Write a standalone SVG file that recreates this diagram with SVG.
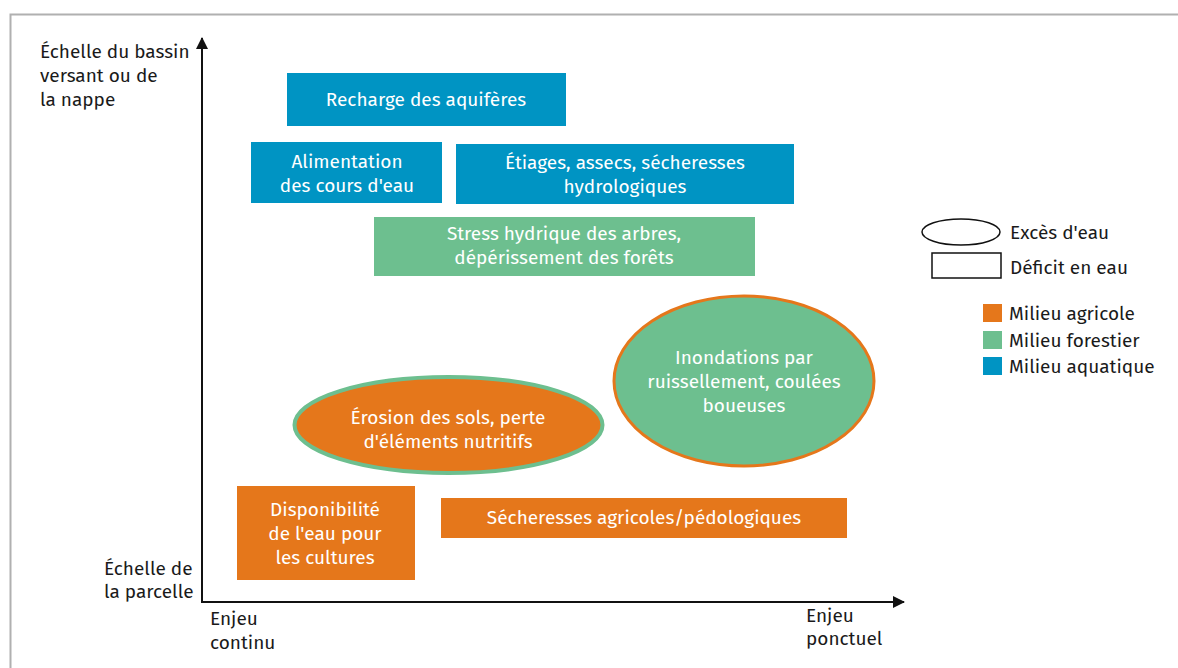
<svg xmlns="http://www.w3.org/2000/svg" width="1178" height="668" viewBox="0 0 1178 668">
  <defs>
    <marker id="arrow" viewBox="0 0 12 12" refX="11" refY="6" markerWidth="12" markerHeight="12" markerUnits="userSpaceOnUse" orient="auto">
      <path d="M0,0 L12,6 L0,12 Z" fill="#111"/>
    </marker>
    <style>
      text { font-family: "Fira Sans", "Open Sans", "Noto Sans", "Liberation Sans", sans-serif; font-size: 19px; }
      .lbl { fill: #1a1a1a; }
      .in { fill: #ffffff; text-anchor: middle; }
      .blue { fill: #0094c3; }
      .green { fill: #6dbf8f; }
      .orange { fill: #e5771b; }
    </style>
  </defs>

  <rect width="1178" height="668" fill="#ffffff"/>
  <!-- outer frame -->
  <path d="M10.5,668 V14.5 H1178" fill="none" stroke="#b0b0b0" stroke-width="2"/>

  <!-- axes -->
  <g id="connectors" stroke="#111" stroke-width="2" fill="none">
    <line x1="202" y1="602" x2="202" y2="38" marker-end="url(#arrow)"/>
    <line x1="201" y1="602" x2="904" y2="602" marker-end="url(#arrow)"/>
  </g>

  <!-- axis labels -->
  <g id="axis-y-top" class="lbl">
    <text x="40" y="58">Échelle du bassin</text>
    <text x="40" y="82">versant ou de</text>
    <text x="40" y="106">la nappe</text>
  </g>
  <g id="axis-y-bottom" class="lbl">
    <text x="104" y="575">Échelle de</text>
    <text x="104" y="598">la parcelle</text>
  </g>
  <g id="axis-x-left" class="lbl">
    <text x="210" y="625">Enjeu</text>
    <text x="210" y="649">continu</text>
  </g>
  <g id="axis-x-right" class="lbl">
    <text x="806" y="622">Enjeu</text>
    <text x="806" y="645">ponctuel</text>
  </g>

  <!-- aquatic -->
  <g id="recharge">
    <rect class="blue" x="287" y="73" width="279" height="53"/>
    <text class="in" x="426" y="106">Recharge des aquifères</text>
  </g>
  <g id="alimentation">
    <rect class="blue" x="251" y="142" width="191" height="61"/>
    <text class="in" x="347" y="168">Alimentation</text>
    <text class="in" x="347" y="192">des cours d'eau</text>
  </g>
  <g id="etiages">
    <rect class="blue" x="456" y="144" width="338" height="60"/>
    <text class="in" x="625" y="169">Étiages, assecs, sécheresses</text>
    <text class="in" x="625" y="193">hydrologiques</text>
  </g>

  <!-- forest -->
  <g id="stress">
    <rect class="green" x="374" y="217" width="381" height="59"/>
    <text class="in" x="564" y="240">Stress hydrique des arbres,</text>
    <text class="in" x="564" y="264">dépérissement des forêts</text>
  </g>

  <!-- excess water -->
  <g id="erosion">
    <ellipse class="orange" cx="448.5" cy="425" rx="154" ry="48" stroke="#6dbf8f" stroke-width="4"/>
    <text class="in" x="448" y="424">Érosion des sols, perte</text>
    <text class="in" x="448" y="448">d'éléments nutritifs</text>
  </g>
  <g id="inondations">
    <ellipse class="green" cx="744" cy="381" rx="130" ry="85" stroke="#e5771b" stroke-width="3"/>
    <text class="in" x="744" y="364">Inondations par</text>
    <text class="in" x="744" y="388">ruissellement, coulées</text>
    <text class="in" x="744" y="412">boueuses</text>
  </g>

  <!-- agriculture -->
  <g id="disponibilite">
    <rect class="orange" x="237" y="486" width="178" height="94"/>
    <text class="in" x="325" y="516">Disponibilité</text>
    <text class="in" x="325" y="540">de l'eau pour</text>
    <text class="in" x="325" y="564">les cultures</text>
  </g>
  <g id="secheresses">
    <rect class="orange" x="441" y="498" width="406" height="40"/>
    <text class="in" x="644" y="524">Sécheresses agricoles/pédologiques</text>
  </g>

  <!-- legend -->
  <g id="legend">
    <ellipse cx="961" cy="232" rx="39" ry="13" fill="#fff" stroke="#111" stroke-width="1.5"/>
    <text class="lbl" x="1010" y="239">Excès d'eau</text>
    <rect x="932" y="253" width="69" height="25" fill="#fff" stroke="#111" stroke-width="1.5"/>
    <text class="lbl" x="1010" y="274">Déficit en eau</text>
    <rect class="orange" x="983" y="304" width="19" height="18"/>
    <text class="lbl" x="1009" y="320">Milieu agricole</text>
    <rect class="green" x="983" y="331" width="19" height="18"/>
    <text class="lbl" x="1009" y="347">Milieu forestier</text>
    <rect class="blue" x="983" y="357" width="19" height="18"/>
    <text class="lbl" x="1009" y="373">Milieu aquatique</text>
  </g>
</svg>
